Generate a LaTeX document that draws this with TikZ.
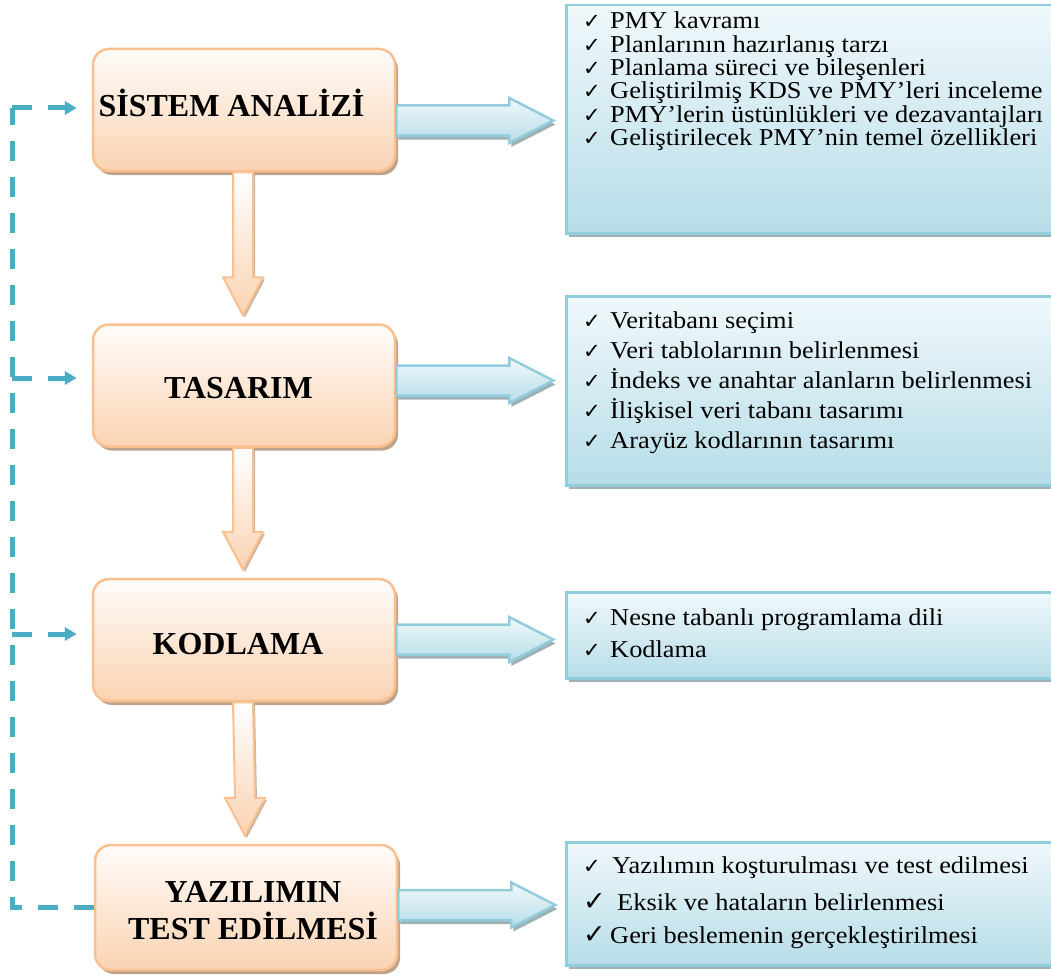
\documentclass[tikz,border=0pt]{standalone}
\usepackage{fontspec}
\setmainfont{Liberation Serif}
\newfontfamily\listfont[FakeStretch=1.09]{Liberation Serif}
\newfontfamily\symfont{DejaVu Sans}
\usetikzlibrary{positioning,calc,shadows,arrows.meta}

\definecolor{stageline}{HTML}{FAC08F}
\definecolor{stagetop}{HTML}{FFFCFA}
\definecolor{stagelow}{HTML}{FAD3B2}
\definecolor{stageshadow}{HTML}{B39378}
\definecolor{listline}{HTML}{93CDDD}
\definecolor{listtop}{HTML}{F0F8FB}
\definecolor{listlow}{HTML}{B7DDE8}
\definecolor{listshadow}{HTML}{8CA3A9}
\definecolor{loopblue}{HTML}{4BACC6}

% check mark in front of every item
\newcommand{\chk}[1][21]{\makebox[27pt][l]{\symfont\fontsize{#1}{#1}\selectfont ✓}}

\tikzset{
  stage/.style={draw=stageline, line width=2.5pt, rounded corners=16pt,
    top color=stagetop, bottom color=stagelow,
    minimum width=302pt, minimum height=122pt,
    drop shadow={shadow xshift=3pt, shadow yshift=-4pt, fill=stageshadow, opacity=.85}},
  stagetext/.style={font=\bfseries\fontsize{32}{37}\selectfont, align=center, inner sep=0pt},
  listbox/.style={draw=listline, line width=2.5pt, anchor=north west,
    top color=listtop, bottom color=listlow, minimum width=500pt,
    drop shadow={shadow xshift=3pt, shadow yshift=-4pt, fill=listshadow, opacity=.85}},
  item/.style={anchor=base west, inner sep=0pt, font=\listfont\fontsize{24.2}{27}\selectfont},
  downblock/.style={draw=stageline, line width=2pt, top color=white, bottom color=stagelow,
    drop shadow={shadow xshift=2pt, shadow yshift=-2pt, fill=stageshadow, opacity=.7}},
  rightblock/.style={draw=listline, line width=2.5pt, top color=listtop, bottom color=listlow,
    drop shadow={shadow xshift=2pt, shadow yshift=-4pt, fill=listshadow, opacity=.85}},
  feedback/.style={draw=loopblue, line width=5pt, dash pattern=on 20pt off 16pt},
}

\begin{document}
\begin{tikzpicture}[x=1pt, y=-1pt]
  \useasboundingbox (0,0) rectangle (1051,979);

  % stages
  \node[stage] (analiz) at (244,110) {};
  \node[stage] (tasarim) at (244,385.5) {};
  \node[stage] (kodlama) at (244,640) {};
  \node[stage, minimum height=125pt] (test) at (246,907.5) {};
  \node[stagetext] (analiz-t) at ($(analiz)+(-12.5,-7)$) {SİSTEM ANALİZİ};
  \node[stagetext] (tasarim-t) at ($(tasarim)+(-5.5,2.5)$) {TASARIM};
  \node[stagetext] (kodlama-t) at ($(kodlama)+(-6,4)$) {KODLAMA};
  \node[stagetext] (test-t) at ($(test)+(7,3)$) {YAZILIMIN\\TEST EDİLMESİ};

  % lists
  \node[listbox, minimum height=228pt] (analizlist) at (565,4) {};
  \node[listbox, minimum height=189pt] (tasarimlist) at (565,295) {};
  \node[listbox, minimum height=86pt] (kodlamalist) at (565,591) {};
  \node[listbox, minimum height=123pt] (testlist) at (565,841) {};

  \foreach \t [count=\i] in {PMY kavramı, Planlarının hazırlanış tarzı,
      Planlama süreci ve bileşenleri, Geliştirilmiş KDS ve PMY’leri inceleme,
      PMY’lerin üstünlükleri ve dezavantajları, Geliştirilecek PMY’nin temel özellikleri}
    \node[item] (analiz-\i) at ($(analizlist.north west)+(18,25+\i*23.3-23.3)$) {\chk\t};
  \foreach \t [count=\i] in {Veritabanı seçimi, Veri tablolarının belirlenmesi,
      İndeks ve anahtar alanların belirlenmesi, İlişkisel veri tabanı tasarımı,
      Arayüz kodlarının tasarımı}
    \node[item] (tasarim-\i) at ($(tasarimlist.north west)+(18,33+\i*30-30)$) {\chk\t};
  \foreach \t [count=\i] in {Nesne tabanlı programlama dili, Kodlama}
    \node[item] (kodlama-\i) at ($(kodlamalist.north west)+(18,34+\i*32-32)$) {\chk\t};
  \node[item] (test-1) at ($(testlist.north west)+(18,32)$) {\chk\hspace{2pt}Yazılımın koşturulması ve test edilmesi};
  \node[item] (test-2) at ($(testlist.north west)+(18,69)$) {\chk[27]\hspace{7pt}Eksik ve hataların belirlenmesi};
  \node[item] (test-3) at ($(testlist.north west)+(18,102)$) {\chk[27]Geri beslemenin gerçekleştirilmesi};

  % block arrows down
  \foreach \a/\b in {analiz/tasarim, tasarim/kodlama, kodlama/test}
    \draw[downblock] ($(\a.south)+(-11,0)$) -- ($(\b.north)+(-11,-46)$) -- ++(-10,0)
      -- ($(\b.north)+(-1,-8)$) -- ++(20,-38) -- ++(-10,0) -- ($(\a.south)+(9,0)$) -- cycle;

  % block arrows right
  \foreach \s/\dy in {analiz/3, tasarim/-12.5, kodlama/-8, test/-10}
    \draw[rightblock] ($(\s.east)+(0,\dy-7.5)$) -- ++(113,0) -- ++(0,-7.5) -- ++(44,22.5)
      -- ++(-44,22.5) -- ++(0,-7.5) -- ++(-113,0) -- cycle;

  % feedback loop
  \coordinate (railtop) at (12,108);
  \draw[feedback] (test.west) -| (railtop);
  \foreach \s/\dy in {analiz/-2, tasarim/-7.5, kodlama/-6} {
    \coordinate (\s-in) at ($(\s.west)+(-15,\dy)$);
    \draw[feedback, -{Triangle[length=12pt, width=13pt]}] (\s-in -| railtop) -- (\s-in);
  }
\end{tikzpicture}
\end{document}
